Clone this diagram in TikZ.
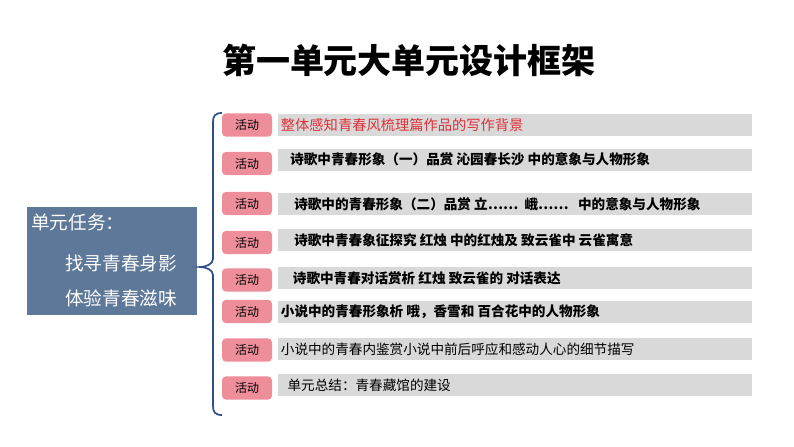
\documentclass[tikz,border=0pt]{standalone}
\usepackage{fontspec}
\setmainfont{Noto Sans CJK SC}
\definecolor{pinkbox}{HTML}{EE8E9A}
\definecolor{graybar}{HTML}{D9D9D9}
\definecolor{slatebox}{HTML}{5D7898}
\definecolor{bracecol}{HTML}{2F4F8A}
\definecolor{redtext}{HTML}{E03038}
\tikzset{
  actlabel/.style={fill=pinkbox, rounded corners=3pt, minimum width=37.5pt, minimum height=17.5pt, inner sep=0pt, font=\fontsize{9}{9}\selectfont, text=black},
  barbox/.style={fill=graybar, anchor=west, minimum width=355.5pt, minimum height=16.5pt, inner sep=0pt},
  bartext/.style={anchor=west, inner sep=0pt, font=\fontsize{10.2}{10.2}\selectfont, text=black},
  boldbartext/.style={bartext, font=\fontsize{10.2}{10.2}\selectfont\bfseries},
  tasktext/.style={anchor=west, inner sep=0pt, text=white, font=\fontsize{14}{14}\selectfont}
}
\begin{document}
\begin{tikzpicture}[x=0.75pt,y=-0.75pt]
\useasboundingbox (0,0) rectangle (794,447);
% title
\node[font=\fontsize{25.5}{25.5}\selectfont\bfseries, inner sep=0pt] (title) at (409,60) {第一单元大单元设计框架};
% left task box
\node[fill=slatebox, anchor=north west, minimum width=127.5pt, minimum height=81pt, inner sep=0pt] (task) at (27,207) {};
\node[tasktext] (t1) at (31,222) {单元任务：};
\node[tasktext] (t2) at (65,263) {找寻青春身影};
\node[tasktext] (t3) at (65,298) {体验青春滋味};
% brace
\draw[bracecol, line width=1.3pt] (222,113) .. controls (215,113) and (213,116) .. (213,122) -- (213,259) .. controls (213,264) and (206,267) .. (200,267) .. controls (206,267) and (213,270) .. (213,275) -- (213,406) .. controls (213,412) and (215,415) .. (222,415);
% rows
\foreach \i/\ly/\by in {1/125/125, 2/163.5/159.5, 3/203.5/204, 4/242.5/240, 5/280/278, 6/311.5/311.5, 7/350/349, 8/388/385} {
  \node[actlabel] (a\i) at (247,\ly) {活动};
  \node[barbox] (b\i) at (278,\by) {};
}
\node[bartext, text=redtext, font=\fontsize{10.7}{10.7}\selectfont] (r1) at ([xshift=2]b1.west) {整体感知青春风梳理篇作品的写作背景};
\node[boldbartext] (r2) at ([xshift=9]b2.west) {诗歌中青春形象（一）品赏 沁园春长沙 中的意象与人物形象};
\node[boldbartext] (r3) at ([xshift=12]b3.west) {诗歌中的青春形象（二）品赏 立……\ \ 峨……\ \ \ 中的意象与人物形象};
\node[boldbartext] (r4) at ([xshift=12]b4.west) {诗歌中青春象征探究 红烛 中的红烛及 致云雀中 云雀寓意};
\node[boldbartext] (r5) at ([xshift=11]b5.west) {诗歌中青春对话赏析 红烛 致云雀的 对话表达};
\node[boldbartext] (r6) at ([xshift=2]b6.west) {小说中的青春形象析 哦，香雪和 百合花中的人物形象};
\node[bartext] (r7) at ([xshift=2]b7.west) {小说中的青春内鉴赏小说中前后呼应和感动人心的细节描写};
\node[bartext] (r8) at ([xshift=7]b8.west) {单元总结：青春藏馆的建设};
\end{tikzpicture}
\end{document}
